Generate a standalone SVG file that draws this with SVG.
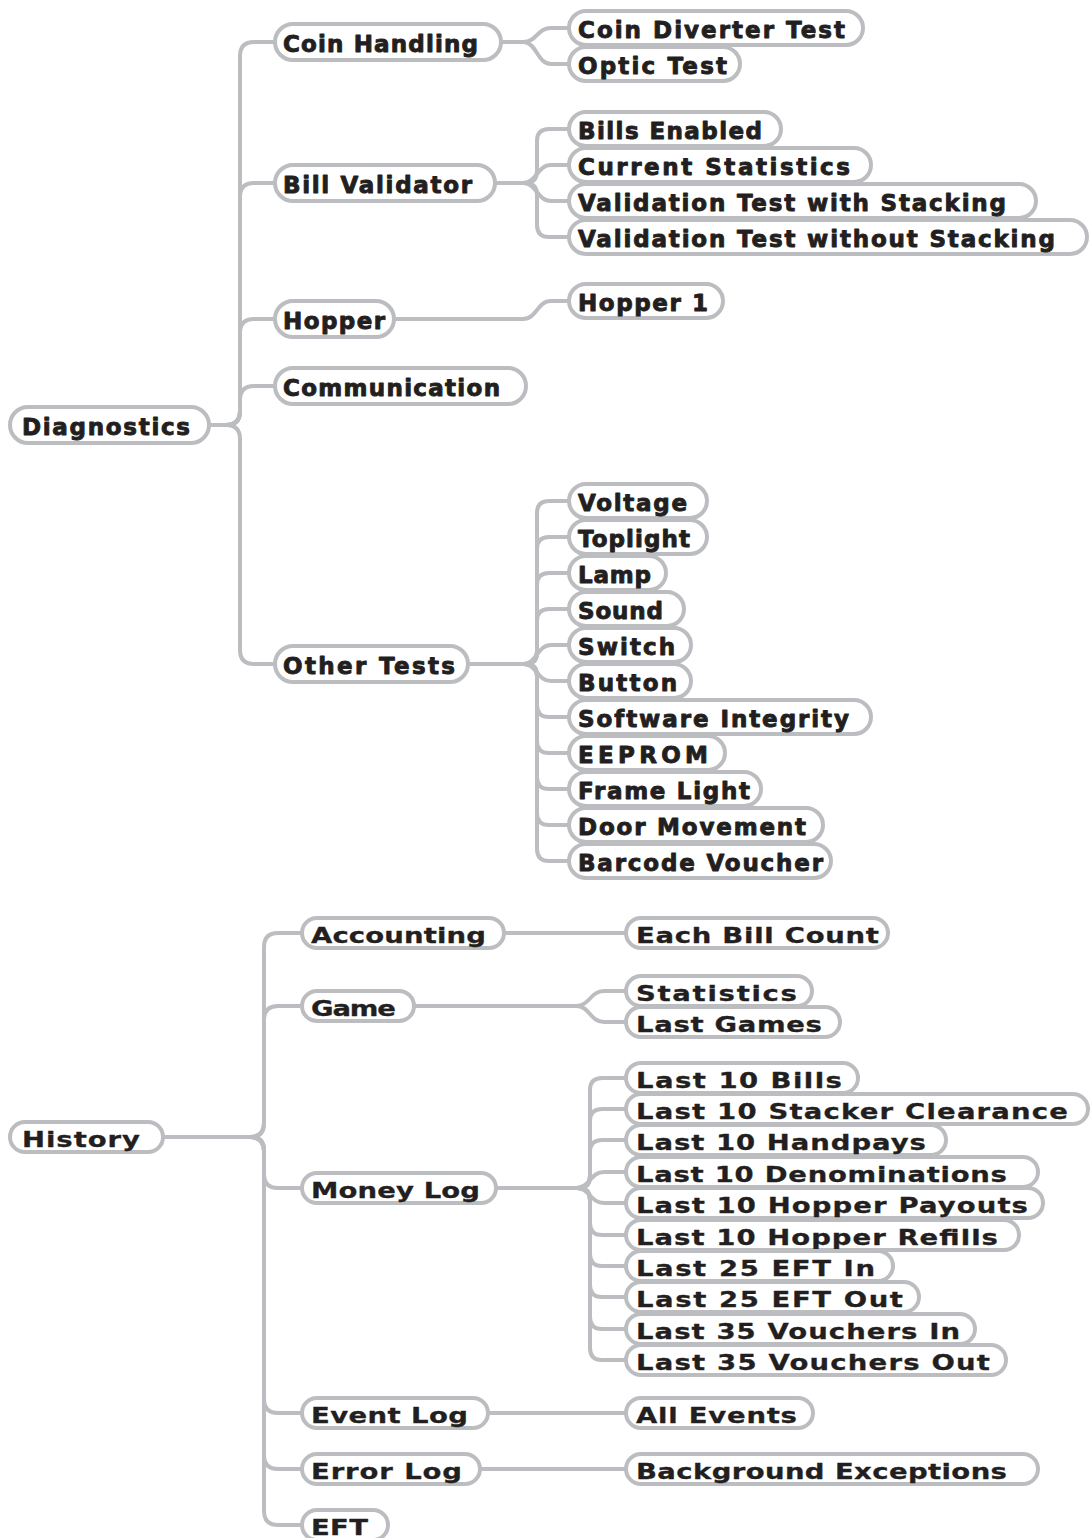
<svg xmlns="http://www.w3.org/2000/svg" width="1091" height="1538" viewBox="0 0 1091 1538">
<style>
.bg{fill:#ffffff}
.c{fill:none;stroke:#bcbdc0;stroke-width:4;stroke-linecap:butt;stroke-linejoin:round}
.p{fill:#ffffff;stroke:#bcbdc0;stroke-width:4}
.t{font-family:"DejaVu Sans","Liberation Sans",sans-serif;font-weight:bold;fill:#231f20;stroke:#231f20;stroke-linejoin:round}
.d{font-size:23px;stroke-width:0.9}
.h{font-size:22px;stroke-width:0.3}
</style>
<rect class="bg" x="0" y="0" width="1091" height="1538"/>
<g id="connectors">
<path class="c" d="M209,425 H226 Q240,425 240,411 V56 Q240,42 254,42 H275"/>
<path class="c" d="M209,425 H226 Q240,425 240,411 V197 Q240,183 254,183 H275"/>
<path class="c" d="M209,425 H226 Q240,425 240,411 V333 Q240,319 254,319 H275"/>
<path class="c" d="M209,425 H226 Q240,425 240,411 V400 Q240,386 254,386 H275"/>
<path class="c" d="M209,425 H226 Q240,425 240,439 V650 Q240,664 254,664 H275"/>
<path class="c" d="M501,42 H523 C537,42 537,28 551,28 H569"/>
<path class="c" d="M501,42 H523 C537,42 537,64 551,64 H569"/>
<path class="c" d="M495,183 H525 Q537,183 537,171 V141 Q537,129 549,129 H569"/>
<path class="c" d="M495,183 H523 C537,183 537,165 551,165 H569"/>
<path class="c" d="M495,183 H523 C537,183 537,201 551,201 H569"/>
<path class="c" d="M495,183 H525 Q537,183 537,195 V225 Q537,237 549,237 H569"/>
<path class="c" d="M394,319 H523 C537,319 537,301 551,301 H569"/>
<path class="c" d="M468,664 H525 Q537,664 537,652 V513 Q537,501 549,501 H569"/>
<path class="c" d="M468,664 H525 Q537,664 537,652 V549 Q537,537 549,537 H569"/>
<path class="c" d="M468,664 H525 Q537,664 537,652 V585 Q537,573 549,573 H569"/>
<path class="c" d="M468,664 H525 Q537,664 537,652 V621 Q537,609 549,609 H569"/>
<path class="c" d="M468,664 H523 C537,664 537,645 551,645 H569"/>
<path class="c" d="M468,664 H523 C537,664 537,681 551,681 H569"/>
<path class="c" d="M468,664 H525 Q537,664 537,676 V705 Q537,717 549,717 H569"/>
<path class="c" d="M468,664 H525 Q537,664 537,676 V741 Q537,753 549,753 H569"/>
<path class="c" d="M468,664 H525 Q537,664 537,676 V777 Q537,789 549,789 H569"/>
<path class="c" d="M468,664 H525 Q537,664 537,676 V813 Q537,825 549,825 H569"/>
<path class="c" d="M468,664 H525 Q537,664 537,676 V849 Q537,861 549,861 H569"/>
<path class="c" d="M163,1137 H250 Q264,1137 264,1123 V947 Q264,933 278,933 H302"/>
<path class="c" d="M163,1137 H250 Q264,1137 264,1123 V1020 Q264,1006 278,1006 H302"/>
<path class="c" d="M163,1137 H250 Q264,1137 264,1151 V1174 Q264,1188 278,1188 H302"/>
<path class="c" d="M163,1137 H250 Q264,1137 264,1151 V1399 Q264,1413 278,1413 H302"/>
<path class="c" d="M163,1137 H250 Q264,1137 264,1151 V1455 Q264,1469 278,1469 H302"/>
<path class="c" d="M163,1137 H250 Q264,1137 264,1151 V1511 Q264,1525 278,1525 H302"/>
<path class="c" d="M504,933 H626"/>
<path class="c" d="M414,1006 H576 C590,1006 590,991 604,991 H626"/>
<path class="c" d="M414,1006 H576 C590,1006 590,1022 604,1022 H626"/>
<path class="c" d="M496,1188 H578 Q590,1188 590,1176 V1090 Q590,1078 602,1078 H626"/>
<path class="c" d="M496,1188 H578 Q590,1188 590,1176 V1121 Q590,1109 602,1109 H626"/>
<path class="c" d="M496,1188 H578 Q590,1188 590,1176 V1152 Q590,1140 602,1140 H626"/>
<path class="c" d="M496,1188 H576 C590,1188 590,1172 604,1172 H626"/>
<path class="c" d="M496,1188 H576 C590,1188 590,1203 604,1203 H626"/>
<path class="c" d="M496,1188 H578 Q590,1188 590,1200 V1223 Q590,1235 602,1235 H626"/>
<path class="c" d="M496,1188 H578 Q590,1188 590,1200 V1254 Q590,1266 602,1266 H626"/>
<path class="c" d="M496,1188 H578 Q590,1188 590,1200 V1285 Q590,1297 602,1297 H626"/>
<path class="c" d="M496,1188 H578 Q590,1188 590,1200 V1317 Q590,1329 602,1329 H626"/>
<path class="c" d="M496,1188 H578 Q590,1188 590,1200 V1348 Q590,1360 602,1360 H626"/>
<path class="c" d="M488,1413 H626"/>
<path class="c" d="M480,1469 H626"/>
</g>

<g id="diagnostics"><rect class="p" x="10" y="407" width="199" height="36" rx="18"/><text class="t d" x="22" y="434.5" textLength="168" lengthAdjust="spacing">Diagnostics</text></g>
<g id="coin-handling"><rect class="p" x="275" y="24" width="226" height="36" rx="18"/><text class="t d" x="283" y="51.5" textLength="195" lengthAdjust="spacing">Coin Handling</text></g>
<g id="bill-validator"><rect class="p" x="275" y="165" width="220" height="36" rx="18"/><text class="t d" x="283" y="192.5" textLength="189" lengthAdjust="spacing">Bill Validator</text></g>
<g id="hopper"><rect class="p" x="275" y="301" width="119" height="36" rx="18"/><text class="t d" x="283" y="328.5" textLength="102" lengthAdjust="spacing">Hopper</text></g>
<g id="communication"><rect class="p" x="275" y="368" width="251" height="36" rx="18"/><text class="t d" x="283" y="395.5" textLength="217" lengthAdjust="spacing">Communication</text></g>
<g id="other-tests"><rect class="p" x="275" y="646" width="193" height="36" rx="18"/><text class="t d" x="283" y="673.5" textLength="172" lengthAdjust="spacing">Other Tests</text></g>

<g id="coin-diverter-test"><rect class="p" x="569" y="11" width="294" height="34" rx="17"/><text class="t d" x="578" y="37.5" textLength="267" lengthAdjust="spacing">Coin Diverter Test</text></g>
<g id="optic-test"><rect class="p" x="569" y="47" width="171" height="34" rx="17"/><text class="t d" x="578" y="73.5" textLength="149" lengthAdjust="spacing">Optic Test</text></g>

<g id="bills-enabled"><rect class="p" x="569" y="112" width="212" height="34" rx="17"/><text class="t d" x="578" y="138.5" textLength="184" lengthAdjust="spacing">Bills Enabled</text></g>
<g id="current-statistics"><rect class="p" x="569" y="148" width="302" height="34" rx="17"/><text class="t d" x="578" y="174.5" textLength="272" lengthAdjust="spacing">Current Statistics</text></g>
<g id="validation-with"><rect class="p" x="569" y="184" width="467" height="34" rx="17"/><text class="t d" x="578" y="210.5" textLength="428" lengthAdjust="spacing">Validation Test with Stacking</text></g>
<g id="validation-without"><rect class="p" x="569" y="220" width="518" height="34" rx="17"/><text class="t d" x="578" y="246.5" textLength="477" lengthAdjust="spacing">Validation Test without Stacking</text></g>

<g id="hopper-1"><rect class="p" x="569" y="284" width="154" height="34" rx="17"/><text class="t d" x="578" y="310.5" textLength="130" lengthAdjust="spacing">Hopper 1</text></g>

<g id="voltage"><rect class="p" x="569" y="484" width="138" height="34" rx="17"/><text class="t d" x="578" y="510.5" textLength="109" lengthAdjust="spacing">Voltage</text></g>
<g id="toplight"><rect class="p" x="569" y="520" width="138" height="34" rx="17"/><text class="t d" x="578" y="546.5" textLength="112" lengthAdjust="spacing">Toplight</text></g>
<g id="lamp"><rect class="p" x="569" y="556" width="97" height="34" rx="17"/><text class="t d" x="578" y="582.5" textLength="73" lengthAdjust="spacing">Lamp</text></g>
<g id="sound"><rect class="p" x="569" y="592" width="115" height="34" rx="17"/><text class="t d" x="578" y="618.5" textLength="85" lengthAdjust="spacing">Sound</text></g>
<g id="switch"><rect class="p" x="569" y="628" width="122" height="34" rx="17"/><text class="t d" x="578" y="654.5" textLength="97" lengthAdjust="spacing">Switch</text></g>
<g id="button"><rect class="p" x="569" y="664" width="122" height="34" rx="17"/><text class="t d" x="578" y="690.5" textLength="99" lengthAdjust="spacing">Button</text></g>
<g id="software-integrity"><rect class="p" x="569" y="700" width="302" height="34" rx="17"/><text class="t d" x="578" y="726.5" textLength="271" lengthAdjust="spacing">Software Integrity</text></g>
<g id="eeprom"><rect class="p" x="569" y="736" width="156" height="34" rx="17"/><text class="t d" x="578" y="762.5" textLength="130" lengthAdjust="spacing">EEPROM</text></g>
<g id="frame-light"><rect class="p" x="569" y="772" width="192" height="34" rx="17"/><text class="t d" x="578" y="798.5" textLength="172" lengthAdjust="spacing">Frame Light</text></g>
<g id="door-movement"><rect class="p" x="569" y="808" width="254" height="34" rx="17"/><text class="t d" x="578" y="834.5" textLength="228" lengthAdjust="spacing">Door Movement</text></g>
<g id="barcode-voucher"><rect class="p" x="569" y="844" width="262" height="34" rx="17"/><text class="t d" x="578" y="870.5" textLength="245" lengthAdjust="spacing">Barcode Voucher</text></g>

<g id="history"><rect class="p" x="10" y="1122" width="153" height="30" rx="15"/><text class="t h" transform="translate(22,1146.5) scale(1.25,1)" textLength="94.4" lengthAdjust="spacing">History</text></g>
<g id="accounting"><rect class="p" x="302" y="918" width="202" height="30" rx="15"/><text class="t h" transform="translate(311,942.5) scale(1.25,1)" textLength="140" lengthAdjust="spacing">Accounting</text></g>
<g id="game"><rect class="p" x="302" y="991" width="112" height="30" rx="15"/><text class="t h" transform="translate(311,1015.5) scale(1.25,1)" textLength="68" lengthAdjust="spacing">Game</text></g>
<g id="money-log"><rect class="p" x="302" y="1173" width="194" height="30" rx="15"/><text class="t h" transform="translate(311,1197.5) scale(1.25,1)" textLength="135.2" lengthAdjust="spacing">Money Log</text></g>
<g id="event-log"><rect class="p" x="302" y="1398" width="186" height="30" rx="15"/><text class="t h" transform="translate(311,1422.5) scale(1.25,1)" textLength="125.6" lengthAdjust="spacing">Event Log</text></g>
<g id="error-log"><rect class="p" x="302" y="1454" width="178" height="30" rx="15"/><text class="t h" transform="translate(311,1478.5) scale(1.25,1)" textLength="120.8" lengthAdjust="spacing">Error Log</text></g>
<g id="eft"><rect class="p" x="302" y="1510" width="86" height="30" rx="15"/><text class="t h" transform="translate(311,1534.5) scale(1.25,1)" textLength="45.6" lengthAdjust="spacing">EFT</text></g>

<g id="each-bill-count"><rect class="p" x="626" y="918" width="262" height="30" rx="15"/><text class="t h" transform="translate(636,942.5) scale(1.25,1)" textLength="194.4" lengthAdjust="spacing">Each Bill Count</text></g>
<g id="statistics"><rect class="p" x="626" y="976" width="186" height="30" rx="15"/><text class="t h" transform="translate(636,1000.5) scale(1.25,1)" textLength="128.8" lengthAdjust="spacing">Statistics</text></g>
<g id="last-games"><rect class="p" x="626" y="1007" width="214" height="30" rx="15"/><text class="t h" transform="translate(636,1031.5) scale(1.25,1)" textLength="148.8" lengthAdjust="spacing">Last Games</text></g>

<g id="last-10-bills"><rect class="p" x="626" y="1063" width="232" height="30" rx="15"/><text class="t h" transform="translate(636,1087.5) scale(1.25,1)" textLength="164.8" lengthAdjust="spacing">Last 10 Bills</text></g>
<g id="last-10-stacker"><rect class="p" x="626" y="1094" width="462" height="30" rx="15"/><text class="t h" transform="translate(636,1118.5) scale(1.25,1)" textLength="345.6" lengthAdjust="spacing">Last 10 Stacker Clearance</text></g>
<g id="last-10-handpays"><rect class="p" x="626" y="1125" width="320" height="30" rx="15"/><text class="t h" transform="translate(636,1149.5) scale(1.25,1)" textLength="232" lengthAdjust="spacing">Last 10 Handpays</text></g>
<g id="last-10-denominations"><rect class="p" x="626" y="1157" width="412" height="30" rx="15"/><text class="t h" transform="translate(636,1181.5) scale(1.25,1)" textLength="296.8" lengthAdjust="spacing">Last 10 Denominations</text></g>
<g id="last-10-hopper-payouts"><rect class="p" x="626" y="1188" width="417" height="30" rx="15"/><text class="t h" transform="translate(636,1212.5) scale(1.25,1)" textLength="313.6" lengthAdjust="spacing">Last 10 Hopper Payouts</text></g>
<g id="last-10-hopper-refills"><rect class="p" x="626" y="1220" width="393" height="30" rx="15"/><text class="t h" transform="translate(636,1244.5) scale(1.25,1)" textLength="289.6" lengthAdjust="spacing">Last 10 Hopper Refills</text></g>
<g id="last-25-eft-in"><rect class="p" x="626" y="1251" width="267" height="30" rx="15"/><text class="t h" transform="translate(636,1275.5) scale(1.25,1)" textLength="191.2" lengthAdjust="spacing">Last 25 EFT In</text></g>
<g id="last-25-eft-out"><rect class="p" x="626" y="1282" width="293" height="30" rx="15"/><text class="t h" transform="translate(636,1306.5) scale(1.25,1)" textLength="213.6" lengthAdjust="spacing">Last 25 EFT Out</text></g>
<g id="last-35-vouchers-in"><rect class="p" x="626" y="1314" width="349" height="30" rx="15"/><text class="t h" transform="translate(636,1338.5) scale(1.25,1)" textLength="259.2" lengthAdjust="spacing">Last 35 Vouchers In</text></g>
<g id="last-35-vouchers-out"><rect class="p" x="626" y="1345" width="380" height="30" rx="15"/><text class="t h" transform="translate(636,1369.5) scale(1.25,1)" textLength="283.2" lengthAdjust="spacing">Last 35 Vouchers Out</text></g>

<g id="all-events"><rect class="p" x="626" y="1398" width="187" height="30" rx="15"/><text class="t h" transform="translate(636,1422.5) scale(1.25,1)" textLength="128.8" lengthAdjust="spacing">All Events</text></g>
<g id="background-exceptions"><rect class="p" x="626" y="1454" width="412" height="30" rx="15"/><text class="t h" transform="translate(636,1478.5) scale(1.25,1)" textLength="296.8" lengthAdjust="spacing">Background Exceptions</text></g>
</svg>
